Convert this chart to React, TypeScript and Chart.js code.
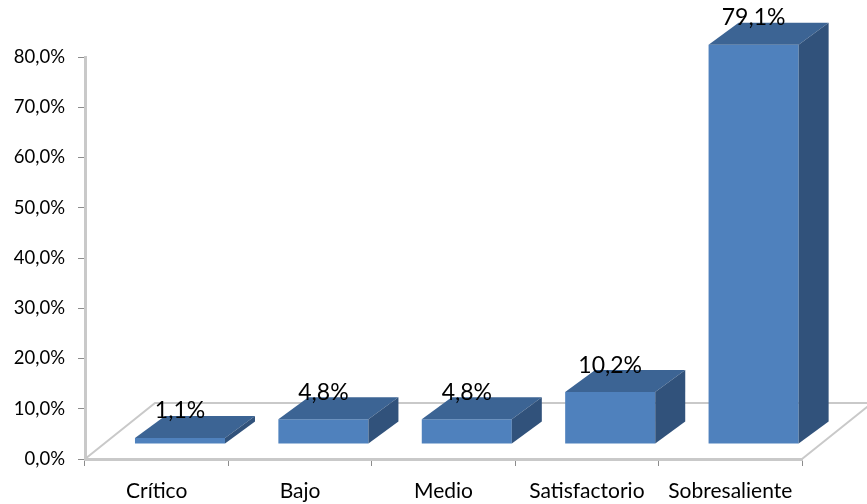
import React, { useEffect, useRef } from "react";
import { Chart, registerables } from "chart.js";

Chart.register(...registerables);

const categories = ["Crítico", "Bajo", "Medio", "Satisfactorio", "Sobresaliente"];
const seriesValues = [1.1, 4.8, 4.8, 10.2, 79.1];
const valueLabels = ["1,1%", "4,8%", "4,8%", "10,2%", "79,1%"];

const FONT = "Lato, 'Open Sans', sans-serif";
const FRONT = "#4f81bd";
const TOP = "#3c6494";
const SIDE = "#31527b";
const AXIS = "#c9c9c9";

const BAR_SHIFT_X = 23.3;
const BAR_SHIFT_Y = -15.5;
const DEPTH_X = 30;
const DEPTH_Y = -22;
const FLOOR_X = 70;
const FLOOR_Y = -56;

const bar3d = {
  id: "bar3d",
  beforeDatasetsDraw(chart: any) {
    const { ctx, chartArea: a } = chart;
    ctx.save();
    ctx.strokeStyle = AXIS;
    ctx.lineWidth = 2;
    ctx.beginPath();
    ctx.moveTo(a.left, a.bottom);
    ctx.lineTo(a.left + FLOOR_X, a.bottom + FLOOR_Y);
    ctx.lineTo(a.right + FLOOR_X, a.bottom + FLOOR_Y);
    ctx.lineTo(a.right, a.bottom);
    ctx.stroke();
    ctx.restore();
  },
  beforeDatasetDraw(chart: any) {
    chart.ctx.save();
    chart.ctx.translate(BAR_SHIFT_X, BAR_SHIFT_Y);
  },
  afterDatasetDraw(chart: any, args: any) {
    const { ctx } = chart;
    const meta = chart.getDatasetMeta(args.index);
    meta.data.forEach((el: any) => {
      const p = el.getProps(["x", "y", "base", "width"], true);
      const l = p.x - p.width / 2;
      const r = p.x + p.width / 2;
      ctx.fillStyle = TOP;
      ctx.beginPath();
      ctx.moveTo(l, p.y);
      ctx.lineTo(l + DEPTH_X, p.y + DEPTH_Y);
      ctx.lineTo(r + DEPTH_X, p.y + DEPTH_Y);
      ctx.lineTo(r, p.y);
      ctx.closePath();
      ctx.fill();
      ctx.fillStyle = SIDE;
      ctx.beginPath();
      ctx.moveTo(r, p.y);
      ctx.lineTo(r + DEPTH_X, p.y + DEPTH_Y);
      ctx.lineTo(r + DEPTH_X, p.base + DEPTH_Y);
      ctx.lineTo(r, p.base);
      ctx.closePath();
      ctx.fill();
    });
    ctx.restore();
  },
  afterDatasetsDraw(chart: any) {
    const { ctx } = chart;
    const meta = chart.getDatasetMeta(0);
    ctx.save();
    ctx.font = `23px ${FONT}`;
    ctx.fillStyle = "#000";
    ctx.textAlign = "center";
    ctx.textBaseline = "middle";
    meta.data.forEach((el: any, i: number) => {
      const p = el.getProps(["x", "y"], true);
      ctx.fillText(valueLabels[i], p.x + BAR_SHIFT_X, p.y + BAR_SHIFT_Y - 27);
    });
    ctx.restore();
  },
};

export default function App() {
  const ref = useRef<HTMLCanvasElement>(null);
  useEffect(() => {
    const chart = new Chart(ref.current as HTMLCanvasElement, {
      type: "bar",
      plugins: [bar3d],
      data: {
        labels: categories,
        datasets: [
          {
            data: seriesValues,
            backgroundColor: FRONT,
            borderWidth: 0,
            yAxisID: "yBar",
            categoryPercentage: 1,
            barPercentage: 0.628,
            clip: false,
          } as any,
        ],
      },
      options: {
        responsive: false,
        animation: false,
        layout: { padding: { top: 57, right: 65, left: 0, bottom: 0 } },
        plugins: { legend: { display: false }, tooltip: { enabled: false }, title: { display: false } },
        scales: {
          x: {
            afterFit(s: any) {
              s.height = 45;
            },
            border: { color: AXIS, width: 3 },
            grid: { drawOnChartArea: false, drawTicks: true, tickLength: 7, tickColor: "#8c8c8c", tickWidth: 1 },
            ticks: { color: "#000", font: { family: FONT, size: 21 }, padding: 13, maxRotation: 0, autoSkip: false },
          },
          y: {
            min: 0,
            max: 80,
            afterFit(s: any) {
              s.width = 85;
            },
            border: { color: AXIS, width: 3 },
            grid: { drawOnChartArea: false, drawTicks: true, tickLength: 7, tickColor: "#8c8c8c", tickWidth: 1 },
            ticks: {
              stepSize: 10,
              color: "#000",
              font: { family: FONT, size: 18.5 },
              padding: 13,
              callback: (v: any) => `${Number(v).toFixed(1).replace(".", ",")}%`,
            },
          },
          yBar: { display: false, min: 0, max: 79.76 },
        },
      } as any,
    });
    return () => chart.destroy();
  }, []);
  return (
    <div style={{ position: "absolute", left: 0, top: 0, width: 867, height: 504 }}>
      <canvas ref={ref} width={867} height={504} style={{ display: "block", width: 867, height: 504, filter: "blur(0.6px)" }} />
    </div>
  );
}
